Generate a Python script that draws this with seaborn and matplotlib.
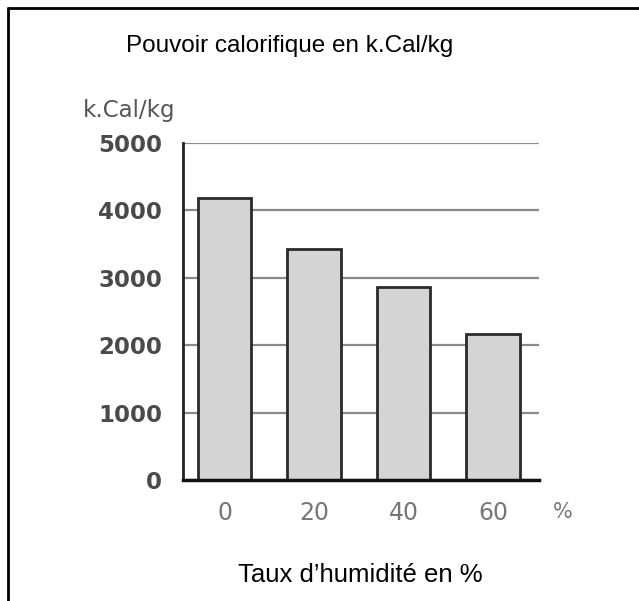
import matplotlib
matplotlib.use("Agg")
import matplotlib.pyplot as plt
import seaborn as sns
import pandas as pd
from matplotlib.lines import Line2D

# Données
humidite = ["0", "20", "40", "60"]
pouvoir = [4180, 3430, 2870, 2170]
yticks = [0, 1000, 2000, 3000, 4000, 5000]

df = pd.DataFrame({"humidite": humidite, "pouvoir": pouvoir})

sns.set_style("white")
plt.rcParams["font.family"] = ["DejaVu Sans"]

fig = plt.figure(figsize=(6.39, 6.01), dpi=100)
ax = fig.add_axes([183 / 639, 1 - 480 / 601, 356 / 639, 337 / 601])

sns.barplot(data=df, x="humidite", y="pouvoir", order=humidite, color="#d4d4d4",
            saturation=1, width=0.6, edgecolor="#2a2a2a", linewidth=2, ax=ax)

ax.set_axisbelow(True)
ax.set_ylim(0, 5000)
ax.set_xlim(-0.464, 3.514)
ax.set_yticks(yticks)
ax.yaxis.grid(True, color="#8a8a8a", linewidth=1.6)
ax.set_xlabel("")
ax.set_ylabel("")

for s in ["top", "right"]:
    ax.spines[s].set_visible(False)
ax.spines["left"].set_color("#222222")
ax.spines["left"].set_linewidth(2)
ax.spines["bottom"].set_color("#111111")
ax.spines["bottom"].set_linewidth(2.5)

ax.tick_params(axis="y", length=0, pad=15, labelsize=16.5, labelcolor="#4a4a4a")
for t in ax.get_yticklabels():
    t.set_fontweight("bold")
ax.tick_params(axis="x", length=0, pad=15, labelsize=17, labelcolor="#777777")

# textes
fig.text(290 / 639, 1 - 52 / 601, "Pouvoir calorifique en k.Cal/kg", ha="center",
         va="baseline", fontsize=17.5, family=["Liberation Sans"], color="black")
fig.text(360 / 639, 1 - 582 / 601, "Taux d\u2019humidité en %", ha="center",
         va="baseline", fontsize=18.5, family=["Liberation Sans"], color="black")
fig.text(83 / 639, 1 - 117 / 601, "k.Cal/kg", ha="left", va="baseline",
         fontsize=16.5, color="#555555")
fig.text(563 / 639, 1 - 512 / 601, "%", ha="center", va="center",
         fontsize=15, color="#777777")

# cadre
fig.add_artist(Line2D([8 / 639, 1], [1 - 8 / 601, 1 - 8 / 601], color="black",
                      linewidth=2, transform=fig.transFigure))
fig.add_artist(Line2D([8 / 639, 8 / 639], [0, 1 - 8 / 601], color="black",
                      linewidth=2, transform=fig.transFigure))

fig.savefig("out.png", dpi=100)
